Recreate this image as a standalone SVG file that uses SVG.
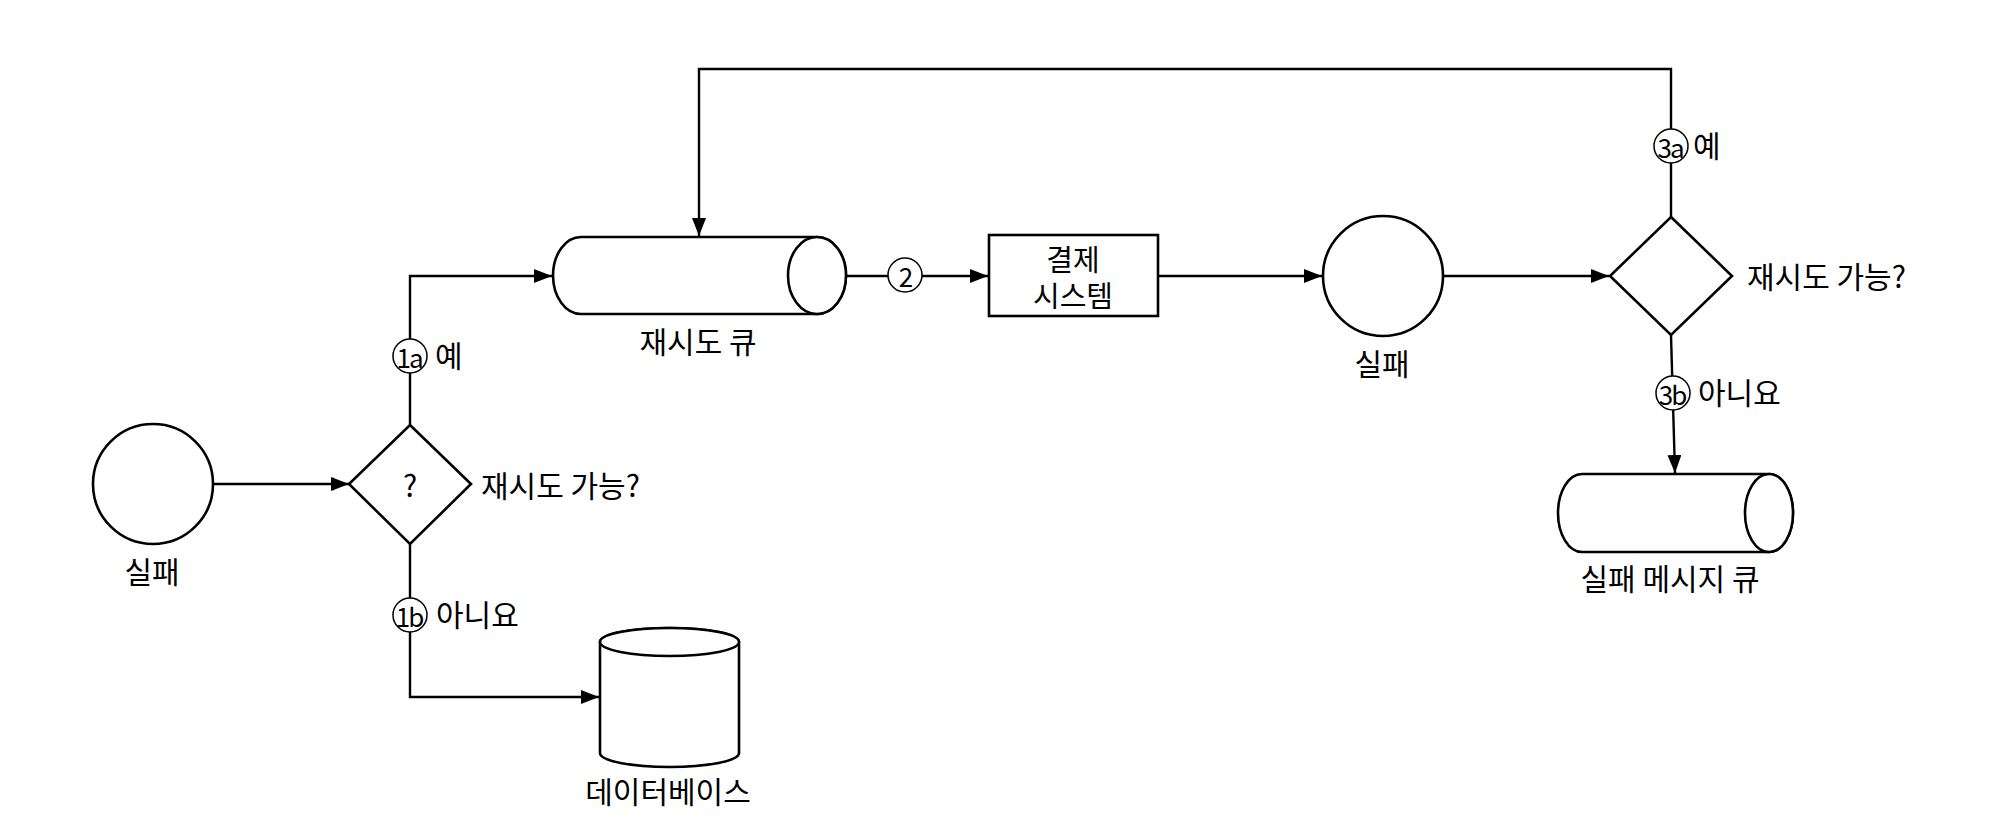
<svg xmlns="http://www.w3.org/2000/svg" width="1998" height="828" viewBox="0 0 1998 828">
<style>
.s{fill:#fff;stroke:#000;stroke-width:2.6}
.c{fill:none;stroke:#000;stroke-width:2.4}
.t{font-family:"Noto Sans CJK KR","Noto Sans",sans-serif;font-size:30px;fill:#000;dominant-baseline:central}
.m{text-anchor:middle}
.n{fill:#fff;stroke:#000;stroke-width:1.5}
.nt{font-family:"Noto Sans CJK KR","Noto Sans",sans-serif;font-size:26px;fill:#000;text-anchor:middle;dominant-baseline:central;letter-spacing:-2px}
</style>
<defs>
<marker id="a" markerUnits="userSpaceOnUse" markerWidth="18" markerHeight="14" refX="18" refY="7" orient="auto">
<path d="M0,0 L18,7 L0,14 Z" fill="#000"/>
</marker>
</defs>
<rect width="1998" height="828" fill="#fff"/>
<g id="connectors">
<path class="c" d="M213,484 L349,484" marker-end="url(#a)"/>
<path class="c" d="M410,425 L410,276 L552,276" marker-end="url(#a)"/>
<path class="c" d="M410,544 L410,697 L599,697" marker-end="url(#a)"/>
<path class="c" d="M846,276 L988,276" marker-end="url(#a)"/>
<path class="c" d="M1158,276 L1322,276" marker-end="url(#a)"/>
<path class="c" d="M1443,276 L1609,276" marker-end="url(#a)"/>
<path class="c" d="M1671,217 L1671,69 L699,69 L699,236" marker-end="url(#a)"/>
<path class="c" d="M1671,335 L1675,473" marker-end="url(#a)"/>
<g id="lbl1a"><circle class="n" cx="410" cy="356" r="17"/><text class="nt" x="409" y="356">1a</text><text class="t" x="435" y="354">예</text></g>
<g id="lbl1b"><circle class="n" cx="410" cy="615" r="17"/><text class="nt" x="409" y="615">1b</text><text class="t" x="436" y="613">아니요</text></g>
<g id="lbl2"><circle class="n" cx="905" cy="275" r="17"/><text class="nt" x="905" y="275">2</text></g>
<g id="lbl3a"><circle class="n" cx="1671" cy="146" r="17"/><text class="nt" x="1670" y="146">3a</text><text class="t" x="1693" y="144">예</text></g>
<g id="lbl3b"><circle class="n" cx="1673" cy="393" r="17"/><text class="nt" x="1672" y="393">3b</text><text class="t" x="1698" y="391">아니요</text></g>
</g>
<g id="fail1">
<circle class="s" cx="153" cy="484" r="60"/>
<text class="t m" x="152" y="570">실패</text>
</g>
<g id="decision1">
<path class="s" d="M410,425 L471,484 L410,544 L349,484 Z"/>
<text class="t m" x="410" y="484">?</text>
<text class="t" x="481" y="484">재시도 가능?</text>
</g>
<g id="database">
<path class="s" d="M600,642 L600,753 A69.5,14 0 0 0 739,753 L739,642 A69.5,14 0 0 0 600,642 Z"/>
<ellipse class="s" cx="669.5" cy="642" rx="69.5" ry="14"/>
<text class="t m" x="668" y="790">데이터베이스</text>
</g>
<g id="retryQueue">
<path class="s" d="M581,237 L817,237 A29,38.5 0 0 1 817,314 L581,314 A28,38.5 0 0 1 581,237 Z"/>
<ellipse class="s" cx="817" cy="275.5" rx="29" ry="38.5"/>
<text class="t m" x="698" y="340">재시도 큐</text>
</g>
<g id="paymentSystem">
<rect class="s" x="989" y="235" width="169" height="81"/>
<text class="t m" x="1073" y="258" style="font-size:29px">결제</text>
<text class="t m" x="1073" y="294" style="font-size:29px">시스템</text>
</g>
<g id="fail2">
<circle class="s" cx="1383" cy="276" r="60"/>
<text class="t m" x="1382" y="362">실패</text>
</g>
<g id="decision2">
<path class="s" d="M1671,217 L1732,276 L1671,335 L1610,276 Z"/>
<text class="t" x="1747" y="275">재시도 가능?</text>
</g>
<g id="deadLetterQueue">
<path class="s" d="M1582,474 L1769,474 A24,39 0 0 1 1769,552 L1582,552 A24,39 0 0 1 1582,474 Z"/>
<ellipse class="s" cx="1769" cy="513" rx="24" ry="39"/>
<text class="t m" x="1670" y="577">실패 메시지 큐</text>
</g>
</svg>
